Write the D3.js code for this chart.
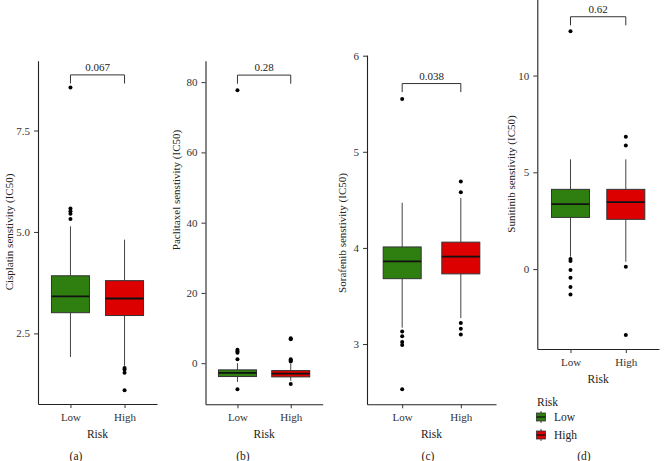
<!DOCTYPE html>
<html><head><meta charset="utf-8">
<script src="https://cdn.jsdelivr.net/npm/d3@7"></script>
<style>
html,body{margin:0;padding:0;background:#fff;}
svg{display:block;font-family:"Liberation Serif","DejaVu Serif",serif;}
</style></head>
<body>
<svg id="chart" width="664" height="461"></svg>
<script>
// ---------- data ----------
const categories = ["Low", "High"];
const panelTags = ["(a)", "(b)", "(c)", "(d)"];
const yTitles = ["Cisplatin senstivity (IC50)", "Paclitaxel senstivity (IC50)", "Sorafenib senstivity (IC50)", "Sunitinib senstivity (IC50)"];
const pValues = ["0.067", "0.28", "0.038", "0.62"];
const bracketLevels = [8.87, 82.0, 5.71, 13.04];
const yTicks = [[2.5, 5, 7.5], [0, 20, 40, 60, 80], [3, 4, 5, 6], [0, 5, 10]];
const yTickFormats = [".1f", "d", "d", "d"];
const yDomains = [[0.76, 9.22], [-11.7, 86.1], [2.373, 6.007], [-4.13, 14.06]];
// box stats: [whisker low, Q1, median, Q3, whisker high]
const lowStats = [[1.92, 3.01, 3.41, 3.92, 5.14], [-5.3, -3.8, -2.75, -1.9, 0.0], [3.17, 3.68, 3.86, 4.01, 4.47], [0.64, 2.67, 3.36, 4.12, 5.67]];
const highStats = [[1.70, 2.94, 3.36, 3.80, 4.81], [-5.0, -3.9, -2.95, -2.1, -0.2], [3.27, 3.73, 3.91, 4.06, 4.52], [0.38, 2.57, 3.46, 4.12, 5.67]];
const lowOutliers = [[8.56, 5.58, 5.51, 5.45, 5.32], [77.7, 3.8, 3.4, 3.0, 1.1, -7.4], [5.55, 3.13, 3.08, 3.02, 2.99, 2.53], [12.29, 0.52, 0.42, -0.05, -0.45, -0.93, -1.31]];
const highOutliers = [[1.65, 1.61, 1.53, 1.10], [7.1, 6.8, 1.1, 0.8, 0.5, -5.9], [4.69, 4.58, 3.22, 3.16, 3.10], [6.84, 6.38, 0.12, -3.41]];
const legendTitle = "Risk";
const xTitle = "Risk";

// ---------- layout ----------
const colors = { Low: "#2f7f10", High: "#dd0000" };
const layout = [
  { x: [38, 157], y: [404, 60.7], ytx: 9, yty: 232, tagx: 76, xlab: 416.7, xtit: 434 },
  { x: [205.5, 322.7], y: [404.3, 60.7], ytx: 176, yty: 190, tagx: 243, xlab: 416.7, xtit: 434 },
  { x: [367, 496], y: [404.3, 55], ytx: 342, yty: 233, tagx: 428, xlab: 416.7, xtit: 434 },
  { x: [537.3, 659], y: [349, -3], ytx: 511, yty: 174, tagx: 584, xlab: 362, xtit: 379 }
];
const tagY = 456;
const boxW = 38;
const svg = d3.select("#chart");

layout.forEach((L, i) => {
  const g = svg.append("g");
  const x = d3.scalePoint().domain(categories).range(L.x).padding(0.6);
  const y = d3.scaleLinear().domain(yDomains[i]).range(L.y);

  // axes
  const ax = g.append("g").attr("transform", `translate(${L.x[0]},0)`)
    .call(d3.axisLeft(y).tickValues(yTicks[i]).tickFormat(d3.format(yTickFormats[i])).tickSize(4).tickSizeOuter(0).tickPadding(4));
  const bx = g.append("g").attr("transform", `translate(0,${L.y[0]})`)
    .call(d3.axisBottom(x).tickSize(4).tickSizeOuter(0).tickPadding(5));
  [ax, bx].forEach(a => {
    a.attr("font-family", null);
    a.select(".domain").attr("stroke", "#222").attr("stroke-width", 1.1);
    a.selectAll(".tick line").attr("stroke", "#333");
    a.selectAll(".tick text").attr("fill", "#333").style("font-size", "11px").style("font-family", "Liberation Serif");
  });
  bx.selectAll(".tick text").attr("y", null).attr("dy", null)
    .attr("y", L.xlab - L.y[0]).attr("dominant-baseline", "central");

  // titles
  g.append("text").attr("x", (L.x[0] + L.x[1]) / 2).attr("y", L.xtit)
    .attr("text-anchor", "middle").attr("dominant-baseline", "central")
    .style("font-size", "11.5px").attr("fill", "#222").text(xTitle);
  g.append("text").attr("transform", `translate(${L.ytx},${L.yty}) rotate(-90)`)
    .attr("text-anchor", "middle").attr("dominant-baseline", "central")
    .style("font-size", "11px").attr("fill", "#222").text(yTitles[i]);
  g.append("text").attr("x", L.tagx).attr("y", tagY)
    .attr("text-anchor", "middle").attr("dominant-baseline", "central")
    .style("font-size", "11.5px").attr("fill", "#222").text(panelTags[i]);

  // boxes
  const groups = [
    { cat: "Low", s: lowStats[i], out: lowOutliers[i] },
    { cat: "High", s: highStats[i], out: highOutliers[i] }
  ];
  groups.forEach(G => {
    const cx = x(G.cat);
    const [wl, q1, md, q3, wh] = G.s;
    g.append("line").attr("x1", cx).attr("x2", cx).attr("y1", y(q3)).attr("y2", y(wh))
      .attr("stroke", "#444").attr("stroke-width", 1);
    g.append("line").attr("x1", cx).attr("x2", cx).attr("y1", y(q1)).attr("y2", y(wl))
      .attr("stroke", "#444").attr("stroke-width", 1);
    g.append("rect").attr("x", cx - boxW / 2).attr("width", boxW)
      .attr("y", y(q3)).attr("height", y(q1) - y(q3))
      .attr("fill", colors[G.cat]).attr("stroke", "#333").attr("stroke-width", 1);
    g.append("line").attr("x1", cx - boxW / 2).attr("x2", cx + boxW / 2)
      .attr("y1", y(md)).attr("y2", y(md)).attr("stroke", "#111").attr("stroke-width", 1.8);
    g.selectAll(null).data(G.out).enter().append("circle")
      .attr("cx", cx).attr("cy", d => y(d)).attr("r", 2).attr("fill", "#000");
  });

  // significance bracket
  const by = y(bracketLevels[i]);
  const x1 = x("Low"), x2 = x("High");
  g.append("path").attr("d", `M${x1},${by + 8.6}V${by}H${x2}V${by + 8.6}`)
    .attr("fill", "none").attr("stroke", "#333").attr("stroke-width", 1);
  g.append("text").attr("x", (x1 + x2) / 2).attr("y", by - 8)
    .attr("text-anchor", "middle").attr("dominant-baseline", "central")
    .style("font-size", "11px").attr("fill", "#222").text(pValues[i]);
});

// legend
const lg = svg.append("g");
lg.append("text").attr("x", 537).attr("y", 401.7).attr("dominant-baseline", "central")
  .style("font-size", "11.5px").attr("fill", "#222").text(legendTitle);
categories.forEach((c, k) => {
  const cy = 417 + k * 18;
  const kx = 541;
  lg.append("line").attr("x1", kx).attr("x2", kx).attr("y1", cy - 6).attr("y2", cy + 6).attr("stroke", "#444");
  lg.append("rect").attr("x", kx - 4.5).attr("y", cy - 4).attr("width", 9).attr("height", 8)
    .attr("fill", colors[c]).attr("stroke", "#333").attr("stroke-width", 0.8);
  lg.append("line").attr("x1", kx - 4.5).attr("x2", kx + 4.5).attr("y1", cy).attr("y2", cy).attr("stroke", "#111").attr("stroke-width", 1.3);
  lg.append("text").attr("x", 554).attr("y", cy).attr("dominant-baseline", "central")
    .style("font-size", "11.5px").attr("fill", "#222").text(c);
});
</script>
</body></html>
